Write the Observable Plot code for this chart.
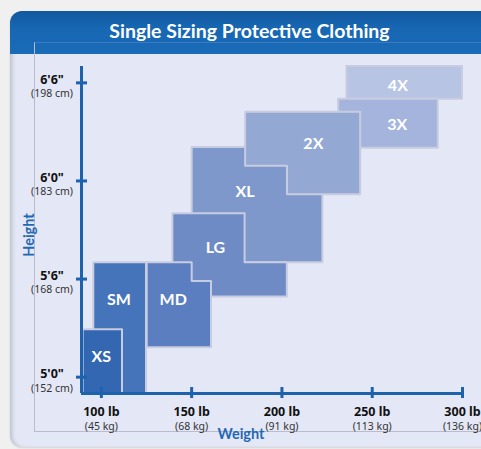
<!DOCTYPE html>
<html>
<head>
<meta charset="utf-8">
<script src="https://cdn.jsdelivr.net/npm/d3@7"></script>
<script src="https://cdn.jsdelivr.net/npm/@observablehq/plot@0.6"></script>
<style>
  html, body { margin: 0; padding: 0; background: #eff0ef; }
  #wrap { position: relative; width: 481px; height: 449px; overflow: hidden; }
  #panel { position: absolute; left: 10px; top: 11px; width: 484px; height: 436px;
           border-radius: 12px; background: #e4e7f5;
           box-shadow: inset 4px 0 4px -2px rgba(0,0,0,0.18), 0 1px 2px rgba(0,0,0,0.12); }
  #header { position: absolute; left: 10px; top: 11px; width: 484px; height: 43px;
            border-radius: 12px 12px 0 0;
            background: linear-gradient(#13589f, #1767b3 40%, #1a6bb8); }
  #inner { position: absolute; left: 34px; top: 42px; width: 500px; height: 388px;
           border-left: 1px solid #b8bccb; border-bottom: 1px solid #b8bccb; border-top: 1px solid #3d7bbd; }
  #title { position: absolute; left: 0; top: 19px; width: 499px; text-align: center;
           font-family: Lato, "Noto Sans", sans-serif; font-weight: 700; font-size: 19.5px;
           line-height: 24px; color: #ffffff; }
  #chart { position: absolute; left: 0; top: 0; }
</style>
</head>
<body>
<div id="wrap">
  <div id="panel"></div>
  <div id="header"></div>
  <div id="inner"></div>
  <div id="title">Single Sizing Protective Clothing</div>
  <div id="chart"></div>
</div>
<script>
// Sizes in drawing order (back to front)
const sizes = ["4X", "3X", "XL", "2X", "LG", "MD", "SM", "XS"];
const colors = ["#b8c4e3", "#a5b4dc", "#7f98cb", "#94a8d4", "#6e8bc6", "#5b7ec0", "#4674ba", "#3467b1"];
// Weight (lb) column edges of each size's staircase shape
const weightEdges = [
  [236, 300], [231.4, 286.6], [150.3, 222.7], [179.9, 203.1, 243.6],
  [139.6, 179.6, 203], [125.4, 150.3, 161], [95.8, 125], [89.9, 111.7]
];
// Height (in) low / high for each column
const heightLow = [[77], [74], [67], [72.9, 71.15], [64.9, 64.9], [61.8, 61.8], [59], [59]];
const heightHigh = [[79], [77], [74.05], [76.2, 76.2], [70, 67], [67, 65.85], [67], [62.9]];
// Label positions (lb, in)
const labelWeight = [264.2, 263.9, 179.5, 217.4, 163.2, 139.8, 109.7, 99.9];
const labelHeight = [77.84, 75.45, 71.31, 74.27, 67.91, 64.73, 64.73, 61.26];

// Axis ticks
const heightTicks = [60, 66, 72, 78];
const feetLabels = ["5'0\"", "5'6\"", "6'0\"", "6'6\""];
const cmLabels = ["(152 cm)", "(168 cm)", "(183 cm)", "(198 cm)"];
const weightTicks = [100, 150, 200, 250, 300];
const lbLabels = ["100 lb", "150 lb", "200 lb", "250 lb", "300 lb"];
const kgLabels = ["(45 kg)", "(68 kg)", "(91 kg)", "(113 kg)", "(136 kg)"];

const xMin = 89, xMax = 300, yMin = 59, yMax = 79;
const axisColor = "#1d62ad";
const font = "'Noto Sans', 'Liberation Sans', sans-serif";
const font2 = "Lato, 'Noto Sans', sans-serif";

const boxMarks = sizes.map((s, i) => {
  const edges = weightEdges[i];
  const pts = edges.map((w, j) => {
    const k = Math.min(j, heightLow[i].length - 1);
    return {w, lo: heightLow[i][k], hi: heightHigh[i][k]};
  });
  return Plot.area(pts, {x1: "w", y1: "lo", y2: "hi", curve: "step-after",
    fill: colors[i], stroke: "#c8cce0", strokeWidth: 2});
});

const labels = sizes.map((s, i) => ({s, w: labelWeight[i], h: labelHeight[i]}));
const yt = heightTicks.map((h, i) => ({h, ft: feetLabels[i], cm: cmLabels[i]}));
const xt = weightTicks.map((w, i) => ({w, lb: lbLabels[i], kg: kgLabels[i]}));

const chart = Plot.plot({
  width: 481, height: 449,
  marginLeft: 81, marginRight: 19, marginTop: 66, marginBottom: 56,
  style: {background: "transparent", overflow: "visible"},
  x: {domain: [xMin, xMax], axis: null},
  y: {domain: [yMin, yMax], axis: null},
  marks: [
    ...boxMarks,
    Plot.text(labels, {x: "w", y: "h", text: "s", fill: "white", fontFamily: font2,
      fontWeight: "bold", fontSize: 16}),
    Plot.ruleX([xMin], {stroke: axisColor, strokeWidth: 3}),
    Plot.ruleY([yMin], {stroke: axisColor, strokeWidth: 3}),
    Plot.ruleY(yt, {y: "h", x1: xMin, x2: xMin, insetLeft: -5, insetRight: -6, stroke: axisColor, strokeWidth: 3}),
    Plot.ruleX(xt, {x: "w", y1: yMin, y2: yMin, insetTop: -6, insetBottom: -5, stroke: axisColor, strokeWidth: 3}),
    Plot.text(yt, {x: xMin, y: "h", text: "ft", dx: -29.5, dy: -3, fontFamily: font, fontWeight: "bold", fontSize: 12.5, fill: "#111"}),
    Plot.text(yt, {x: xMin, y: "h", text: "cm", dx: -29.5, dy: 11, fontFamily: font, fontSize: 10.5, fill: "#333"}),
    Plot.text(xt, {x: "w", y: yMin, text: "lb", dy: 18, fontFamily: font, fontWeight: "bold", fontSize: 12.5, fill: "#111"}),
    Plot.text(xt, {x: "w", y: yMin, text: "kg", dy: 33, fontFamily: font, fontSize: 10.5, fill: "#333"}),
    Plot.text(["Weight"], {frameAnchor: "bottom", textAnchor: "middle", lineAnchor: "middle", dx: -31, dy: 41, fontFamily: font2, fontWeight: "bold", fontSize: 14.5, fill: "#2468b4"}),
    Plot.text(["Height"], {frameAnchor: "left", textAnchor: "middle", lineAnchor: "middle", dx: -52.5, dy: 5, rotate: -90, fontFamily: font2, fontWeight: "bold", fontSize: 14.5, fill: "#2468b4"})
  ]
});
document.getElementById("chart").appendChild(chart);
</script>
</body>
</html>
